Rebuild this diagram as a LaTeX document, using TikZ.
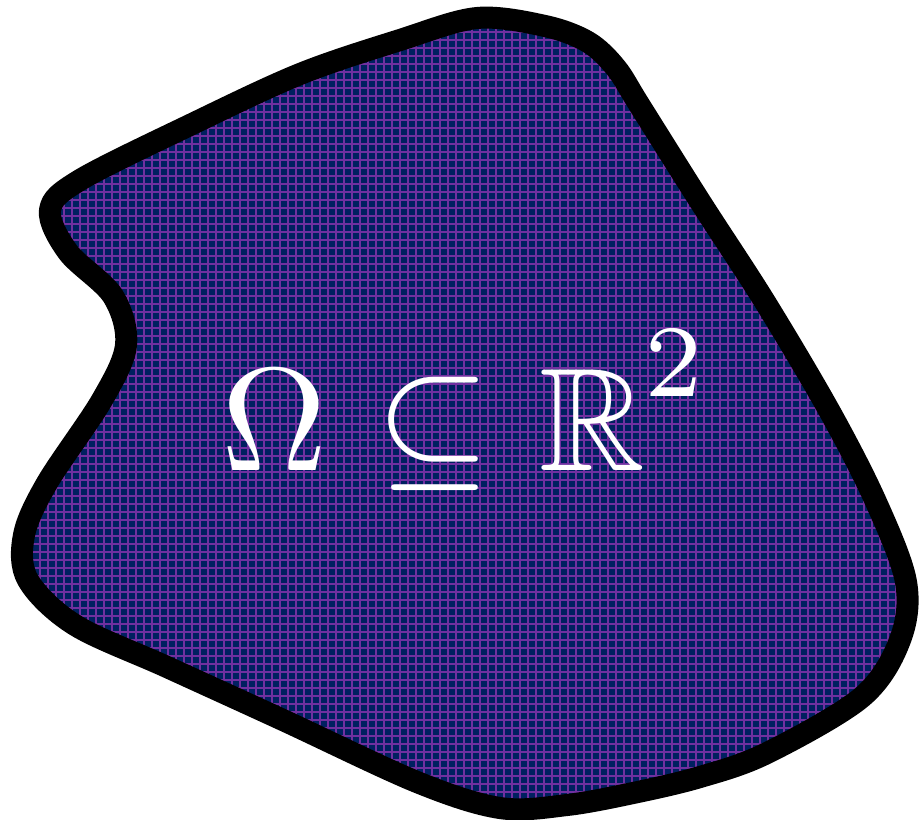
\documentclass[tikz,border=0pt]{standalone}
\usepackage{amssymb}
\definecolor{navy}{HTML}{002060}
\definecolor{gridpurple}{HTML}{7030A0}
\tikzset{
  blobfill/.style={fill=navy},
  gridline/.style={draw=gridpurple, line width=1.7pt},
  bloboutline/.style={draw=black, line width=16.5pt, line join=round},
  label/.style={text=white, inner sep=0pt, font=\normalsize, scale=11.0}
}
\newcommand{\blobpath}{plot[smooth cycle, tension=0.55] coordinates {
 (477,18) (545,26) (588,42) (616,68) (640,106) (701,203) (765,302) (830,412) (876,502)
 (906,582) (900,640) (862,697) (767,753) (700,777) (633,793) (567,805)
 (500,808) (417,782) (283,720) (167,667) (75,625) (28,580) (24,535)
 (47,483) (102,400) (126,345) (113,296) (68,252) (50,210) (80,180)
 (190,125) (300,74) (400,40)}}
\begin{document}
\begin{tikzpicture}[x=0.75pt, y=-0.75pt]
\useasboundingbox (0,0) rectangle (919,819);
\begin{scope}
  \clip \blobpath;
  \fill[blobfill] (0,0) rectangle (919,819);
  \foreach \i in {0,8,...,920} {
    \draw[gridline] (\i,0) -- (\i,819);
  }
  \foreach \j in {0,8,...,824} {
    \draw[gridline] (0,\j) -- (919,\j);
  }
\end{scope}
\draw[bloboutline] \blobpath;
\node[label, anchor=base] (lbl) at (466,470) {$\Omega\mkern1mu \subseteq \mkern1mu\mathbb{R}^{\raise1.4pt\hbox{$\scriptstyle 2$}}$};
\end{tikzpicture}
\end{document}
